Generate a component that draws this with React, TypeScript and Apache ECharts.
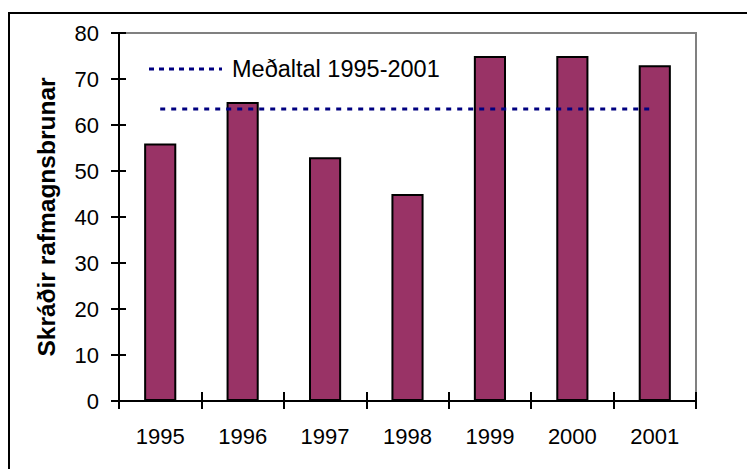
import React, { useEffect, useRef } from "react";
import * as echarts from "echarts";

const categories = ["1995", "1996", "1997", "1998", "1999", "2000", "2001"];
const fires = [56, 65, 53, 45, 75, 75, 73];
const averageValue = [63.5, 63.5, 63.5, 63.5, 63.5, 63.5, 63.5];
const yTitle = "Skráðir rafmagnsbrunar";
const avgName = "Meðaltal 1995-2001";

const FONT = "Liberation Sans, Arial, sans-serif";

export default function App() {
  const ref = useRef<HTMLDivElement>(null);
  useEffect(() => {
    if (!ref.current) return;
    const chart = echarts.init(ref.current, null, { renderer: "svg" });
    const yCommon = {
      type: "value",
      min: 0,
      max: 80,
      interval: 10,
      splitLine: { show: false },
      position: "left",
    };
    const xCommon = {
      type: "category",
      data: categories,
      boundaryGap: true,
      position: "bottom",
    };
    chart.setOption({
      animation: false,
      backgroundColor: "#ffffff",
      grid: {
        left: 119,
        top: 33,
        right: 51,
        bottom: 68,
        show: true,
        borderColor: "#808080",
        borderWidth: 2,
      },
      xAxis: [
        {
          ...xCommon,
          axisLine: { show: true, lineStyle: { color: "#000", width: 2 } },
          axisTick: { show: true, inside: false, length: 8, lineStyle: { color: "#000", width: 2 } },
          axisLabel: { show: true, margin: 24, fontFamily: FONT, fontSize: 22, color: "#000" },
        },
        {
          ...xCommon,
          axisLine: { show: false },
          axisTick: { show: true, inside: true, length: 9, lineStyle: { color: "#000", width: 2 } },
          axisLabel: { show: false },
        },
      ],
      yAxis: [
        {
          ...yCommon,
          name: yTitle,
          nameLocation: "middle",
          nameGap: 60,
          nameRotate: 90,
          nameTextStyle: { fontFamily: FONT, fontSize: 24.5, fontWeight: "bold", color: "#000" },
          axisLine: { show: true, lineStyle: { color: "#000", width: 2 } },
          axisTick: { show: true, inside: false, length: 8, lineStyle: { color: "#000", width: 2 } },
          axisLabel: { show: true, margin: 20, fontFamily: FONT, fontSize: 22, color: "#000" },
        },
        {
          ...yCommon,
          axisLine: { show: false },
          axisTick: { show: true, inside: true, length: 7, lineStyle: { color: "#000", width: 2 } },
          axisLabel: { show: false },
        },
      ],
      series: [
        {
          type: "bar",
          name: "Skráðir",
          data: fires,
          xAxisIndex: 0,
          yAxisIndex: 0,
          barWidth: "39%",
          itemStyle: { color: "#993366", borderColor: "#000", borderWidth: 2 },
        },
        {
          type: "line",
          name: avgName,
          data: averageValue,
          xAxisIndex: 0,
          yAxisIndex: 0,
          symbol: "none",
          lineStyle: { color: "#000080", width: 3, type: [5, 6] },
          z: 5,
        },
      ],
      graphic: [
        {
          type: "rect",
          shape: { x: 9, y: 13, width: 800, height: 500 },
          style: { fill: "none", stroke: "#000", lineWidth: 2 },
          silent: true,
        },
        {
          type: "line",
          shape: { x1: 149, y1: 69, x2: 222, y2: 69 },
          style: { stroke: "#000080", lineWidth: 3, lineDash: [5, 5] },
          silent: true,
        },
        {
          type: "text",
          x: 232,
          y: 69,
          style: {
            text: avgName,
            fontFamily: FONT,
            fontSize: 23.5,
            fill: "#000",
            verticalAlign: "middle",
            align: "left",
          },
          silent: true,
        },
      ],
    });
    return () => chart.dispose();
  }, []);
  return (
    <div
      ref={ref}
      style={{ position: "absolute", left: 0, top: 0, width: 747, height: 469 }}
    />
  );
}
